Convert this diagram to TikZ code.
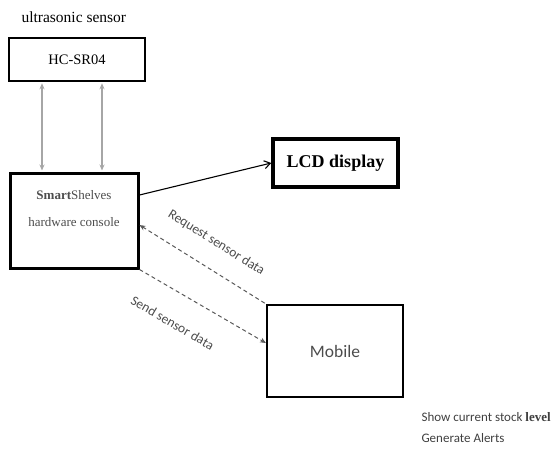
\documentclass[tikz,border=0pt]{standalone}
\usepackage{fontspec}
\setmainfont{Liberation Serif}
\newfontfamily\calibri{Carlito}
\usetikzlibrary{arrows.meta}
\usetikzlibrary{calc}
\usetikzlibrary{positioning}

\begin{document}
\begin{tikzpicture}[x=1pt, y=-1pt]
	\useasboundingbox (0,0) rectangle (553,450);
	\begin{scope}[every node/.style={draw, line width=2.5pt, inner sep=0pt}]
		\node[minimum width=136pt, minimum height=43pt, font=\fontsize{14.5}{16}\selectfont] (sensor) at (77,59.5) {HC-SR04};
		\node[minimum width=128pt, minimum height=95pt, line width=3pt] (console) at (74,220.5) {};
		\node[minimum width=125pt, minimum height=48pt, line width=3.5pt, font=\fontsize{18}{20}\selectfont\bfseries] (lcd) at (335.5,163) {LCD display};
		\node[minimum width=136pt, minimum height=92pt, line width=2.2pt, text=black!70, font=\calibri\fontsize{17.5}{19}\selectfont] (mobile) at (335,351) {Mobile};
	\end{scope}

	\node[anchor=west, font=\fontsize{15.5}{17}\selectfont] (sensorlabel) at (18,17) {ultrasonic sensor};
	\node[align=center, text=black!70, font=\fontsize{13}{27}\selectfont] (consoletext) at (74,208.5) {\textbf{Smart}Shelves\\hardware console};
	\node[anchor=west, align=left, text=black!75, font=\calibri\fontsize{13}{21}\selectfont] (features) at (418,428) {Show current stock {\rmfamily\bfseries level}\\Generate Alerts};

	\begin{scope}[>={Stealth[length=6pt, width=5pt]},
	              every edge/.style={draw=black!35, line width=1.3pt, shorten >=1pt, shorten <=1pt}]
		\foreach \dx in {-35,25}
		{\path ([xshift=\dx pt]sensor.south) edge[<->] ([xshift=\dx pt]sensor.south |- console.north);}
	\end{scope}

	\begin{scope}[every node/.style={text=black!70, font=\calibri\fontsize{13.5}{16}\selectfont},
	              every edge/.style={draw=black!65, line width=1pt, dash pattern=on 4pt off 3pt},
	              >={Stealth[length=6pt, width=5pt]}]
		\path ([yshift=-4.5pt]console.east) edge[<-] node[sloped, above=16pt] {Request sensor data} (mobile.north west);
		\path (console.south east) edge[->] node[sloped, below=21pt, pos=0.38] {Send sensor data} ([yshift=8pt]mobile.west);
	\end{scope}

	\draw[-{Straight Barb[length=6pt, width=8pt]}, line width=1.1pt] ([yshift=25.5pt]console.east) -- (lcd.west);
\end{tikzpicture}
\end{document}
